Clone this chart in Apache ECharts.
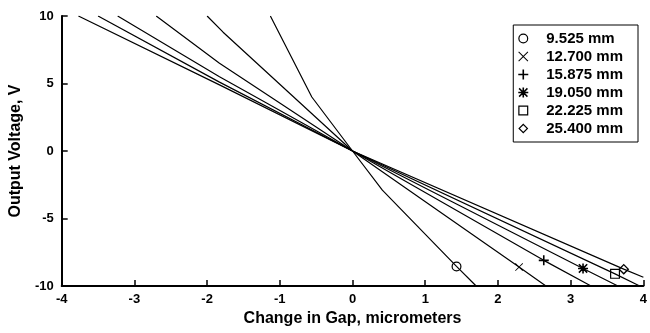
<!DOCTYPE html>
<html>
<head>
    <meta charset="utf-8">
    <title>Output Voltage vs Change in Gap</title>
    <script src="https://cdn.jsdelivr.net/npm/echarts@6/dist/echarts.min.js"></script>
</head>
<body style="margin:0">
    <div id="main" style="width: 650px;height:333px;"></div>
    <script type="text/javascript">
        // probe gap sizes (legend names)
        var names = ['9.525 mm', '12.700 mm', '15.875 mm', '19.050 mm', '22.225 mm', '25.400 mm'];

        // change in gap (micrometers) and output voltage (V);
        // the second-to-last point of each curve carries the marker
        var gap1 = [-1.13, -0.56, 0, 0.41, 1.43, 1.70];
        var volt1 = [10, 4.0, 0, -2.9, -8.55, -10];
        var gap2 = [-2.0, -1.78, 0, 2.29, 2.66];
        var volt2 = [10, 8.8, 0, -8.6, -10];
        var gap3 = [-2.70, -1.83, 0, 2.63, 3.28];
        var volt3 = [10, 6.5, 0, -8.1, -10];
        var gap4 = [-3.23, -1.83, 0, 3.17, 3.65];
        var volt4 = [10, 5.5, 0, -8.7, -10];
        var gap5 = [-3.50, -1.83, 0, 3.61, 3.95];
        var volt5 = [10, 5.1, 0, -9.1, -10];
        var gap6 = [-3.77, -1.83, 0, 3.73, 4.0];
        var volt6 = [10, 4.9, 0, -8.75, -9.35];

        var gaps = [gap1, gap2, gap3, gap4, gap5, gap6];
        var volts = [volt1, volt2, volt3, volt4, volt5, volt6];

        // marker shapes as filled outlines so stroke weight stays thin
        var symbols = [
            'path://M5,0A5,5 0 1,1 5,10A5,5 0 1,1 5,0ZM5,1.2A3.8,3.8 0 1,0 5,8.8A3.8,3.8 0 1,0 5,1.2Z',
            'path://M0.7,0L5,4.3L9.3,0L10,0.7L5.7,5L10,9.3L9.3,10L5,5.7L0.7,10L0,9.3L4.3,5L0,0.7Z',
            'path://M4.2,0H5.8V4.2H10V5.8H5.8V10H4.2V5.8H0V4.2H4.2Z',
            'path://M4.2,0H5.8V4.2H10V5.8H5.8V10H4.2V5.8H0V4.2H4.2ZM1.4,0.3L5,3.9L8.6,0.3L9.7,1.4L6.1,5L9.7,8.6L8.6,9.7L5,6.1L1.4,9.7L0.3,8.6L3.9,5L0.3,1.4Z',
            'path://M0,0H10V10H0ZM1.2,1.2V8.8H8.8V1.2Z',
            'path://M5,0L10,5L5,10L0,5ZM5,1.7L1.7,5L5,8.3L8.3,5Z'
        ];
        var symbolSizes = [10, 8, 10, 10, 10, 11];

        var font = 'Liberation Sans, Arial, Helvetica, sans-serif';

        var series = names.map(function (name, i) {
            var g = gaps[i], v = volts[i];
            var data = g.map(function (x, j) {
                var item = { value: [x, v[j]] };
                if (j !== g.length - 2) item.symbol = 'none';
                return item;
            });
            return {
                name: name,
                type: 'line',
                data: data,
                symbol: symbols[i],
                symbolSize: symbolSizes[i],
                showSymbol: true,
                color: '#000',
                lineStyle: { color: '#000', width: 1.2 },
                itemStyle: { color: '#000', borderWidth: 0 },
                emphasis: { disabled: true },
                z: 3
            };
        });

        var myChart = echarts.init(document.getElementById('main'));
        var option = {
            animation: false,
            backgroundColor: '#fff',
            grid: { left: 61, right: 2, top: 16, bottom: 47 },
            legend: {
                orient: 'vertical',
                right: 12,
                top: 25,
                padding: [6, 15, 6, 5],
                itemGap: 3,
                itemWidth: 36,
                itemHeight: 10,
                borderColor: '#000',
                borderWidth: 1,
                selectedMode: false,
                textStyle: { color: '#000', fontFamily: font, fontWeight: 'bold', fontSize: 15 },
                data: names.map(function (n, i) {
                    return { name: n, icon: symbols[i] };
                })
            },
            xAxis: {
                type: 'value',
                min: -4,
                max: 4,
                interval: 1,
                name: 'Change in Gap, micrometers',
                nameLocation: 'middle',
                nameGap: 16,
                nameTextStyle: { color: '#000', fontFamily: font, fontSize: 16, fontWeight: 'bold', verticalAlign: 'top' },
                axisLine: { onZero: false, lineStyle: { color: '#000', width: 2 } },
                axisTick: { inside: true, length: 6, lineStyle: { color: '#000', width: 1.5 } },
                axisLabel: { color: '#000', fontFamily: font, fontWeight: 'bold', fontSize: 13, margin: 7 },
                splitLine: { show: false }
            },
            yAxis: {
                type: 'value',
                min: -10,
                max: 10,
                interval: 5,
                name: 'Output Voltage, V',
                nameLocation: 'middle',
                nameGap: 34,
                nameTextStyle: { color: '#000', fontFamily: font, fontSize: 16, fontWeight: 'bold' },
                axisLine: { show: true, onZero: false, lineStyle: { color: '#000', width: 2 } },
                axisTick: { show: true, inside: true, length: 6, lineStyle: { color: '#000', width: 1.5 } },
                axisLabel: { color: '#000', fontFamily: font, fontWeight: 'bold', fontSize: 13, margin: 8 },
                splitLine: { show: false }
            },
            series: series
        };
        myChart.setOption(option);
    </script>
</body>
</html>
